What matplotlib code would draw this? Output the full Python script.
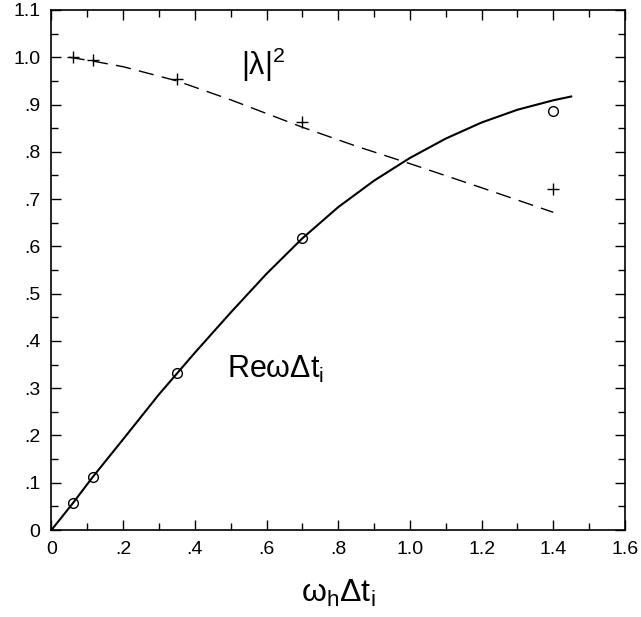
import numpy as np
import matplotlib
matplotlib.use('Agg')
import matplotlib.pyplot as plt
from matplotlib.ticker import MultipleLocator, FixedFormatter, FixedLocator

plt.rcParams['font.family'] = ['Liberation Sans', 'DejaVu Sans']
plt.rcParams['mathtext.default'] = 'regular'

# measured points
x_pts = [0.06, 0.115, 0.35, 0.70, 1.40]
re_pts = [0.057, 0.113, 0.332, 0.618, 0.886]
lam_pts = [1.0, 0.995, 0.953, 0.863, 0.721]

# solid curve (Re w dt)
x_re = [0, 0.06, 0.115, 0.2, 0.3, 0.4, 0.5, 0.6, 0.7, 0.8, 0.9, 1.0, 1.1, 1.2, 1.3, 1.4, 1.45]
y_re = [0, 0.057, 0.112, 0.192, 0.287, 0.375, 0.46, 0.542, 0.617, 0.683, 0.739, 0.787, 0.828, 0.862, 0.889, 0.909, 0.917]

# dashed curve (|lambda|^2)
x_lam = [0.05, 0.115, 0.2, 0.35, 0.5, 0.7, 0.85, 1.0, 1.2, 1.4]
y_lam = [1.0, 0.992, 0.98, 0.95, 0.91, 0.852, 0.812, 0.775, 0.724, 0.672]

xticks = [0, 0.2, 0.4, 0.6, 0.8, 1.0, 1.2, 1.4, 1.6]
xlabels = ['0', '.2', '.4', '.6', '.8', '1.0', '1.2', '1.4', '1.6']
yticks = [0, 0.1, 0.2, 0.3, 0.4, 0.5, 0.6, 0.7, 0.8, 0.9, 1.0, 1.1]
ylabels = ['0', '.1', '.2', '.3', '.4', '.5', '.6', '.7', '.8', '.9', '1.0', '1.1']

fig = plt.figure(figsize=(6.41, 6.17), dpi=100)
ax = fig.add_axes([0.0803, 0.141, 0.8947, 0.8428])

ax.plot(x_re, y_re, color='black', lw=1.5)
ax.plot(x_lam, y_lam, color='black', lw=1.0, dashes=(11, 6))
ax.plot(x_pts, re_pts, 'o', mfc='none', mec='black', ms=7, mew=1.0)
ax.plot(x_pts, lam_pts, '+', color='black', ms=9, mew=1.0)

ax.set_xlim(0, 1.6)
ax.set_ylim(0, 1.1)
ax.xaxis.set_major_locator(FixedLocator(xticks))
ax.xaxis.set_major_formatter(FixedFormatter(xlabels))
ax.yaxis.set_major_locator(FixedLocator(yticks))
ax.yaxis.set_major_formatter(FixedFormatter(ylabels))
ax.xaxis.set_minor_locator(MultipleLocator(0.1))
ax.yaxis.set_minor_locator(MultipleLocator(0.05))
ax.tick_params(which='both', direction='in', top=True, right=True, width=1.0)
ax.tick_params(which='major', length=7, labelsize=14, pad=8)
ax.tick_params(which='minor', length=5)
for s in ax.spines.values():
    s.set_linewidth(1.2)

ax.text(0.53, 0.983, r'$|\lambda|^2$', fontsize=22, va='center', ha='left')
ax.text(0.49, 0.34, r'Re$\omega\Delta t_i$', fontsize=22, va='center', ha='left')
ax.set_xlabel(r'$\omega_h\Delta t_i$', fontsize=23, labelpad=14)

fig.savefig('out.png', dpi=100)
